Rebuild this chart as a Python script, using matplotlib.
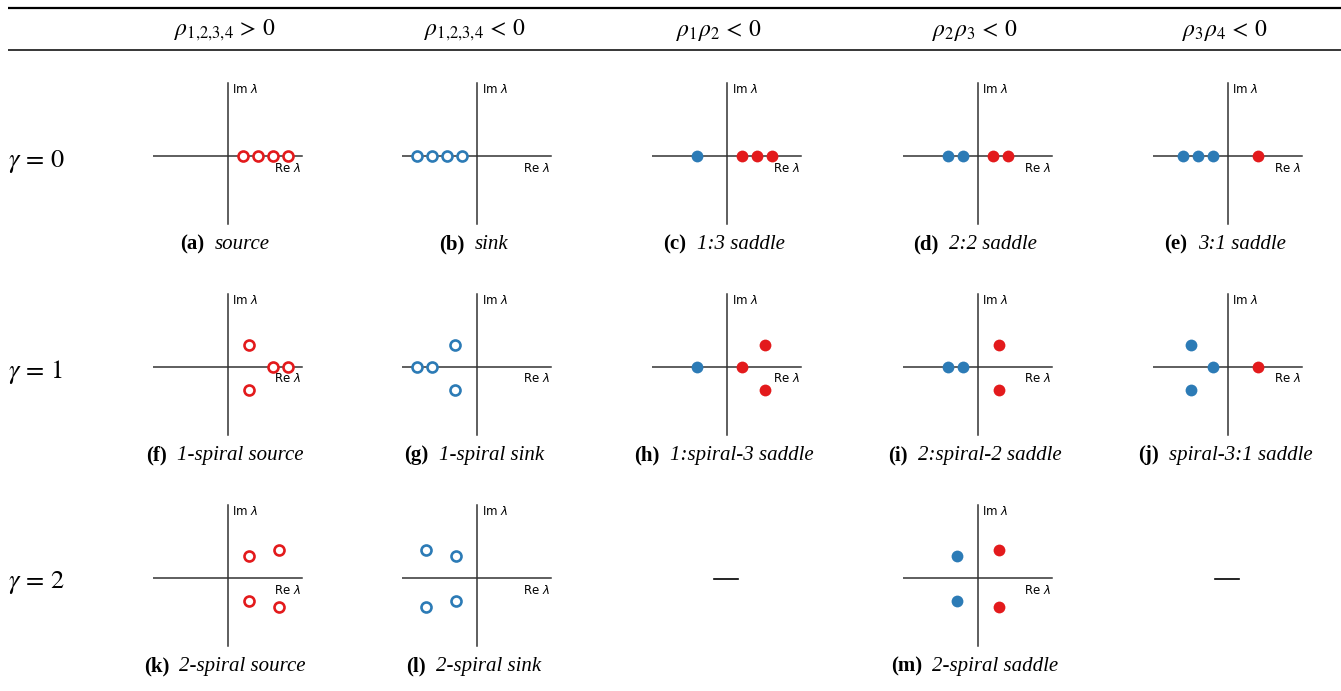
import numpy as np
import matplotlib
matplotlib.use('Agg')
import matplotlib.pyplot as plt

plt.rcParams['mathtext.fontset'] = 'stix'

W, H = 1341, 691

# table contents
headers = [r'$\rho_{1{,}2{,}3{,}4}\, >\, 0$', r'$\rho_{1{,}2{,}3{,}4}\, <\, 0$', r'$\rho_1\rho_2\, <\, 0$',
           r'$\rho_2\rho_3\, <\, 0$', r'$\rho_3\rho_4\, <\, 0$']
row_labels = [r'$\gamma\, =\, 0$', r'$\gamma\, =\, 1$', r'$\gamma\, =\, 2$']

panel_ids = ['a', 'b', 'c', 'd', 'e',
             'f', 'g', 'h', 'i', 'j',
             'k', 'l', None, 'm', None]
panel_names = ['source', 'sink', '1:3 saddle', '2:2 saddle', '3:1 saddle',
               '1-spiral source', '1-spiral sink', '1:spiral-3 saddle', '2:spiral-2 saddle', 'spiral-3:1 saddle',
               '2-spiral source', '2-spiral sink', None, '2-spiral saddle', None]

# eigenvalues (Re, Im) for each panel
eig_re = {
    'a': [1, 2, 3, 4],
    'b': [-4, -3, -2, -1],
    'c': [-2, 1, 2, 3],
    'd': [-2, -1, 1, 2],
    'e': [-3, -2, -1, 2],
    'f': [1.4, 1.4, 3, 4],
    'g': [-4, -3, -1.5, -1.5],
    'h': [-2, 1, 2.5, 2.5],
    'i': [-2, -1, 1.4, 1.4],
    'j': [-2.5, -2.5, -1, 2],
    'k': [1.4, 1.4, 3.4, 3.4],
    'l': [-3.4, -3.4, -1.4, -1.4],
    'm': [-1.4, -1.4, 1.4, 1.4],
}
eig_im = {
    'a': [0, 0, 0, 0],
    'b': [0, 0, 0, 0],
    'c': [0, 0, 0, 0],
    'd': [0, 0, 0, 0],
    'e': [0, 0, 0, 0],
    'f': [1.5, -1.5, 0, 0],
    'g': [0, 0, 1.5, -1.5],
    'h': [0, 0, 1.5, -1.5],
    'i': [0, 0, 1.5, -1.5],
    'j': [1.5, -1.5, 0, 0],
    'k': [1.5, -1.5, 1.9, -1.9],
    'l': [1.9, -1.9, 1.5, -1.5],
    'm': [1.5, -1.5, 1.9, -1.9],
}
hollow = ['a', 'b', 'f', 'g', 'k', 'l']

RED = '#e31a1c'
BLUE = '#2c7bb6'
LINE = '#333333'

col_x = [228, 477, 727, 978, 1228]
row_y = [156, 367, 578]
head_x = [225, 475, 719, 975, 1225]
half = 75

fig = plt.figure(figsize=(W / 100, H / 100), dpi=100)
base = fig.add_axes([0, 0, 1, 1])
base.set_xlim(0, W)
base.set_ylim(H, 0)
base.axis('off')

# table rules
base.plot([8, W], [8, 8], color='black', lw=1.6, solid_capstyle='butt')
base.plot([8, W], [50, 50], color='black', lw=1.1, solid_capstyle='butt')

for x, h in zip(head_x, headers):
    base.text(x, 30, h, fontsize=17, ha='center', va='center')
for y, r in zip(row_y, row_labels):
    base.text(8, y + 5, r, fontsize=19, ha='left', va='center')

captions = []
for k, (pid, name) in enumerate(zip(panel_ids, panel_names)):
    r, c = divmod(k, 5)
    cx, cy = col_x[c], row_y[r]
    if pid is None:
        base.plot([cx - 13, cx + 11], [cy + 1, cy + 1], color='black', lw=1.2)
        continue
    ax = fig.add_axes([(cx - half) / W, 1 - (cy + half) / H, 2 * half / W, 2 * half / H])
    ax.set_xlim(-5, 5)
    ax.set_ylim(-5, 5)
    ax.axis('off')
    ax.plot([-5, 4.95], [0, 0], color=LINE, lw=1.1, zorder=1)
    ax.plot([0, 0], [-4.5, 4.9], color=LINE, lw=1.1, zorder=1)
    ax.text(0.3, 4.85, r'Im $\lambda$', fontsize=8.5, ha='left', va='top',
            math_fontfamily='dejavusans')
    ax.text(4.85, -0.8, r'Re $\lambda$', fontsize=8.5, ha='right', va='center',
            math_fontfamily='dejavusans')
    re = np.array(eig_re[pid])
    im = np.array(eig_im[pid])
    for x, y in zip(re, im):
        col = RED if x > 0 else BLUE
        if pid in hollow:
            ax.plot(x, y, 'o', ms=7.2, mfc='white', mec=col, mew=1.9, zorder=3)
        else:
            ax.plot(x, y, 'o', ms=8.5, mfc=col, mec=col, mew=0, zorder=3)
    t1 = base.text(cx, cy + 93, '(%s)' % pid, fontsize=15, fontweight='bold',
                   family='Liberation Serif', ha='left', va='baseline')
    t2 = base.text(cx, cy + 93, name, fontsize=15, style='italic',
                   family='Liberation Serif', ha='left', va='baseline')
    captions.append((cx - 3, t1, t2))

# center the two-part captions under their panel
renderer = fig.canvas.get_renderer()
for cx, t1, t2 in captions:
    b1 = t1.get_window_extent(renderer)
    b2 = t2.get_window_extent(renderer)
    gap = 10
    total = b1.width + gap + b2.width
    left = cx - total / 2
    t1.set_x(left)
    t2.set_x(left + b1.width + gap)

fig.savefig('out.png', dpi=100)
